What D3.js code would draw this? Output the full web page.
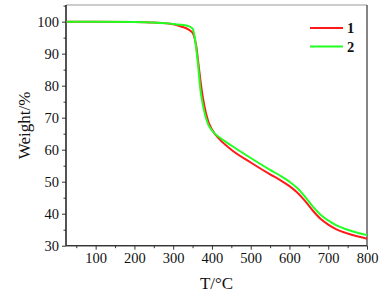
<!DOCTYPE html>
<html><head><meta charset="utf-8">
<script src="https://cdn.jsdelivr.net/npm/d3@7"></script>
<style>body{margin:0;background:#fff}svg{display:block}text{font-family:"Liberation Serif","Times New Roman",serif}</style>
</head><body>
<svg id="c" width="390" height="297"></svg>
<script>
const temps1 = [25,100,200,250,300,320,340,350,355,360,365,370,375,380,390,400,420,450,500,550,580,600,620,640,660,680,700,720,750,780,800];
const weight1 = [100,100,99.9,99.7,99.2,98.5,97.5,96.5,95,92,87,82,77.5,74,69,66.3,63.2,60,56,52.3,50.2,48.6,46.6,44,41,38.4,36.6,35.2,33.8,32.8,32.2];
const temps2 = [25,100,200,250,300,320,340,350,355,360,365,370,375,380,390,400,420,450,500,550,580,600,620,640,660,680,700,720,750,780,800];
const weight2 = [100,100,99.9,99.7,99.3,99,98.6,97.8,95.5,91,85.5,79,75,72,68,66,63.8,61.3,57.4,53.7,51.6,50,48,45.3,42.3,39.7,37.9,36.4,35,33.9,33.3];
const seriesNames = ["1","2"];
const xTicks = [100,200,300,400,500,600,700,800];
const yTicks = [30,40,50,60,70,80,90,100];

const svg = d3.select("#c");
const L=66, R=367, T=5, B=245.7;
const x = d3.scaleLinear().domain([23.5,800]).range([L,R]);
const y = d3.scaleLinear().domain([30,105.2]).range([B,T]);

// frame
svg.append("line").attr("x1",L).attr("x2",R).attr("y1",T).attr("y2",T).attr("stroke","#999").attr("stroke-width",1.2);
svg.append("line").attr("x1",R).attr("x2",R).attr("y1",T).attr("y2",B).attr("stroke","#333").attr("stroke-width",1.2);

const xMinor = d3.range(50,801,50).filter(v=>xTicks.indexOf(v)<0);
const yMinor = d3.range(35,106,10);

const gx = svg.append("g").attr("transform",`translate(0,${B})`);
gx.call(d3.axisBottom(x).tickValues(xTicks).tickSize(4).tickPadding(3).tickSizeOuter(0));
gx.append("g").call(d3.axisBottom(x).tickValues(xMinor).tickSize(2.5).tickFormat("").tickSizeOuter(0));
const gy = svg.append("g").attr("transform",`translate(${L},0)`);
gy.call(d3.axisLeft(y).tickValues(yTicks).tickSize(4).tickPadding(3).tickSizeOuter(0));
gy.append("g").call(d3.axisLeft(y).tickValues(yMinor).tickSize(2.5).tickFormat("").tickSizeOuter(0));
svg.selectAll(".domain").attr("stroke","#333").attr("stroke-width",1.2);
svg.selectAll(".tick line").attr("stroke","#333");
svg.selectAll(".tick text").attr("font-family","Liberation Serif").attr("font-size",14.5).attr("fill","#111");
gx.selectAll(".domain").attr("d",`M${L},0H${R}`);
gy.selectAll(".domain").attr("d",`M0,${B}V${T}`);

const line = d3.line().x(d=>x(d[0])).y(d=>y(d[1])).curve(d3.curveMonotoneX);
const data = [d3.zip(temps1,weight1), d3.zip(temps2,weight2)];
const colors = ["#ff1a1a","#22ff22"];
[0,1].forEach(i=>{
  svg.append("path").attr("d",line(data[i])).attr("fill","none").attr("stroke",colors[i]).attr("stroke-width",2);
});

// legend
seriesNames.forEach((n,i)=>{
  const yy = 28 + i*18.5;
  svg.append("line").attr("x1",310).attr("x2",343).attr("y1",yy).attr("y2",yy).attr("stroke",colors[i]).attr("stroke-width",2);
  svg.append("text").attr("x",347).attr("y",yy+5).attr("font-size",14.5).attr("font-weight","bold").attr("fill","#111").text(n);
});

svg.append("text").attr("x",(L+R)/2).attr("y",289).attr("text-anchor","middle").attr("font-size",17).attr("fill","#111").text("T/°C");
svg.append("text").attr("transform",`translate(30,${(T+B)/2}) rotate(-90)`).attr("text-anchor","middle").attr("font-size",17).attr("fill","#111").text("Weight/%");
</script>
</body></html>
